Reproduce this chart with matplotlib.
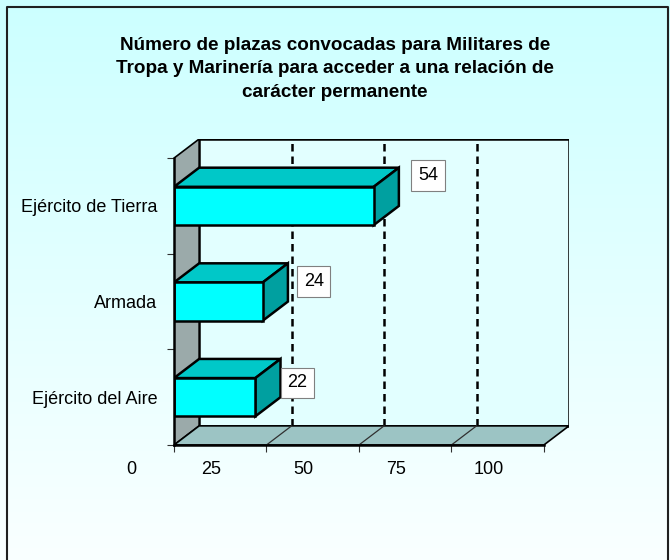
import numpy as np
import matplotlib.pyplot as plt
from matplotlib.patches import Polygon, Rectangle
from matplotlib.transforms import offset_copy

categories = ["Ejército del Aire", "Armada", "Ejército de Tierra"]
values = [22, 24, 54]
x_ticks = [0, 25, 50, 75, 100]
title = ("Número de plazas convocadas para Militares de\n"
         "Tropa y Marinería para acceder a una relación de\n"
         "carácter permanente")

plt.rcParams['font.family'] = ['Liberation Sans', 'DejaVu Sans']

# depth of the fake 3d box, in data units
dx, dy = 6.8, 0.2
bar_h = 0.4
front_c = "#00FFFF"
top_c = "#00C8C8"
side_c = "#00A0A0"
fs = 13

fig = plt.figure(figsize=(6.7, 5.6), dpi=100)

# background gradient
bg = fig.add_axes([0, 0, 1, 1], zorder=-10)
grad = np.linspace(0, 1, 256).reshape(-1, 1)
top_rgb = np.array([0.80, 1.0, 1.0])
bot_rgb = np.array([0.98, 1.0, 1.0])
img = top_rgb * (1 - grad[..., None]) + bot_rgb * grad[..., None]
bg.imshow(img, aspect="auto", extent=[0, 1, 0, 1])
bg.set_xlim(0, 1)
bg.set_ylim(0, 1)
bg.axis("off")
# frame (bottom edge falls outside the picture)
bg.plot([7 / 670, 7 / 670, 668 / 670, 668 / 670], [0, 553 / 560, 553 / 560, 0],
        color="#202020", lw=1.5)

fig.text(0.5, 0.934, title, ha="center", va="top", fontsize=13.6,
         fontweight="bold", linespacing=1.5)

ax = fig.add_axes([174 / 670, 115 / 560, 395 / 670, 306 / 560])
ax.set_xlim(0, 100 + dx)
ax.set_ylim(0, len(categories) + dy)
ax.patch.set_alpha(0)
n = len(categories)

# back wall
ax.add_patch(Rectangle((dx, dy), 100, n, facecolor="#E2FFFF", edgecolor="black",
                       lw=1.8, zorder=1))
# left wall
ax.add_patch(Polygon([(0, 0), (dx, dy), (dx, n + dy), (0, n)], closed=True,
                     facecolor="#9BAAAA", edgecolor="black", lw=1.2, zorder=2))
# floor
ax.add_patch(Polygon([(0, 0), (100, 0), (100 + dx, dy), (dx, dy)], closed=True,
                     facecolor="#9CC4C4", edgecolor="black", lw=1.2, zorder=2))

# gridlines on the back wall and floor
for t in x_ticks[1:-1]:
    ax.plot([t + dx, t + dx], [dy, n + dy], color="black", lw=1.8,
            ls=(0, (3, 2)), zorder=1.5)
    ax.plot([t, t + dx], [0, dy], color="#303030", lw=0.9, zorder=2.5)

# bars
for i, v in enumerate(values):
    y0 = i + 0.5 - bar_h / 2
    y1 = i + 0.5 + bar_h / 2
    ax.add_patch(Polygon([(0, y1), (v, y1), (v + dx, y1 + dy), (dx, y1 + dy)],
                         closed=True, facecolor=top_c, edgecolor="black", lw=1.8, zorder=4))
    ax.add_patch(Polygon([(v, y0), (v + dx, y0 + dy), (v + dx, y1 + dy), (v, y1)],
                         closed=True, facecolor=side_c, edgecolor="black", lw=1.8, zorder=4))
    ax.add_patch(Rectangle((0, y0), v, bar_h, facecolor=front_c, edgecolor="black",
                           lw=1.8, zorder=5))

# data labels
lab_off = [(11.4, 0.15), (13.8, 0.21), (14.7, 0.32)]
for i, v in enumerate(values):
    ox, oy = lab_off[i]
    ax.text(v + ox, i + 0.5 + oy, str(v), ha="center", va="center", fontsize=fs,
            zorder=6, bbox=dict(boxstyle="square,pad=0.37", facecolor="white",
                                edgecolor="#808080", lw=0.8))

# axes
for s in ["top", "right"]:
    ax.spines[s].set_visible(False)
ax.spines["bottom"].set_bounds(0, 100)
ax.spines["left"].set_bounds(0, n)
ax.spines["bottom"].set_linewidth(1.8)
ax.spines["left"].set_linewidth(1.8)
ax.spines["bottom"].set_zorder(7)
ax.spines["left"].set_zorder(7)
ax.set_xticks(x_ticks)
ax.set_xticklabels([])
ax.set_yticks(range(n + 1))
ax.set_yticklabels([])
ax.tick_params(axis="both", direction="out", length=5, width=0.8, color="#303030")
ax.set_yticks([i + 0.5 for i in range(n)], minor=True)
ax.set_yticklabels(categories, minor=True, fontsize=fs)
ax.tick_params(axis="y", which="minor", length=0, pad=12)

# x tick labels sit shifted left, like the original
label_shift = [-11.5, -15, -15, -15, -15]
tr = offset_copy(ax.get_xaxis_transform(), fig=fig, x=0, y=-25, units="dots")
for t, s in zip(x_ticks, label_shift):
    ax.text(t + s, 0, str(t), transform=tr, ha="center", va="center", fontsize=fs)

fig.savefig("out.png", dpi=100)
